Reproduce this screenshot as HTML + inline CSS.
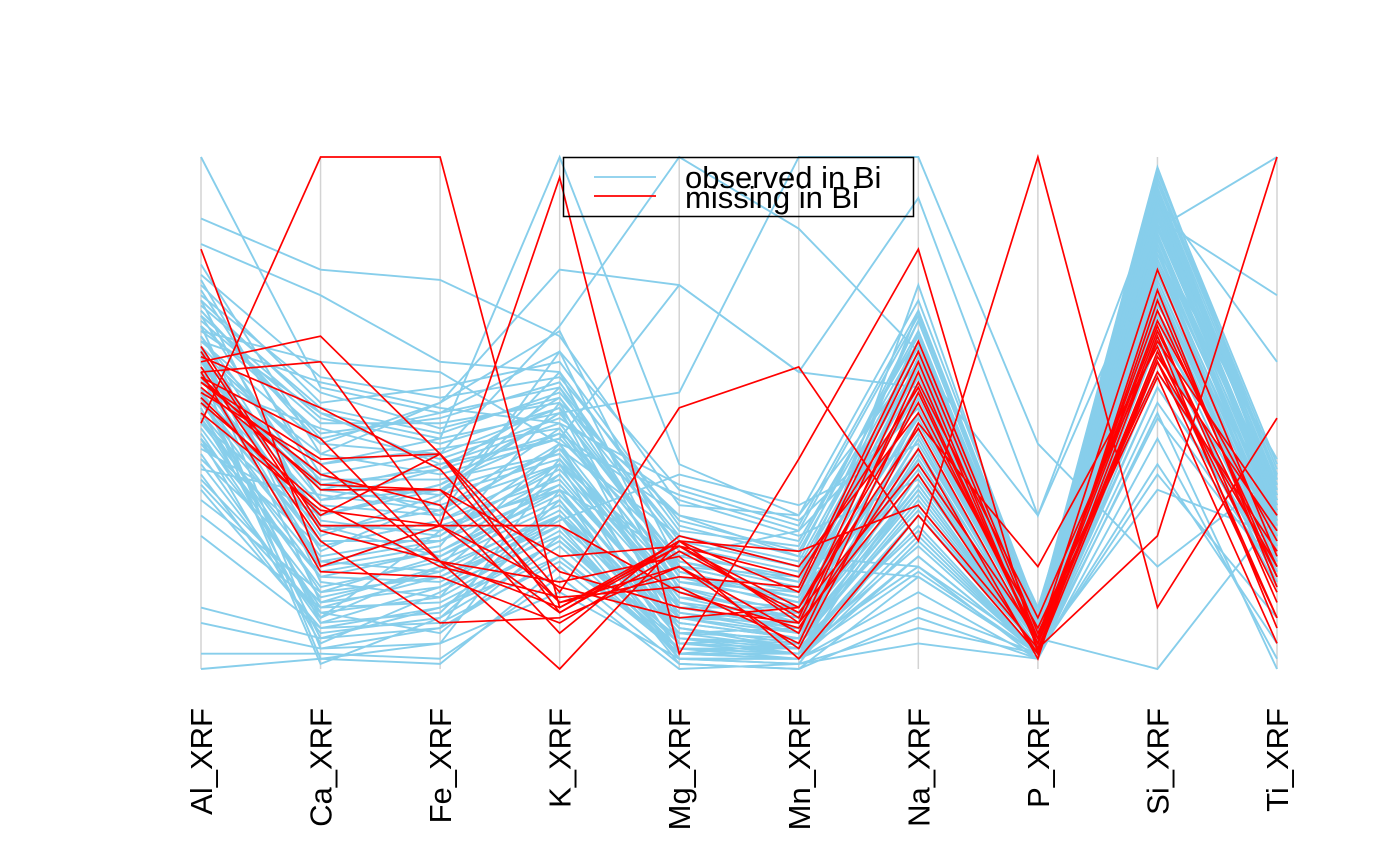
<!DOCTYPE html>
<html><head><meta charset="utf-8"><style>
html,body{margin:0;padding:0;background:#fff;}
svg{display:block;font-family:"Liberation Sans",sans-serif;}
</style></head><body>
<svg id="chart" width="1400" height="866" viewBox="0 0 1400 866">
<g id="axes"></g>
<g id="blue"></g>
<g id="red"></g>
<g id="labels"></g>
<g>
<rect x="563.5" y="157.5" width="350" height="59" fill="none" stroke="#000" stroke-width="1.5"/>
<line x1="594" y1="177" x2="656" y2="177" stroke="#87CEEB" stroke-width="1.8"/>
<line x1="594" y1="196" x2="656" y2="196" stroke="#ff0000" stroke-width="1.8"/>
<text x="685" y="188" font-size="31">observed in Bi</text>
<text x="685" y="208" font-size="31">missing in Bi</text>
</g>
</svg>
<script>
const axisNames = ["Al_XRF","Ca_XRF","Fe_XRF","K_XRF","Mg_XRF","Mn_XRF","Na_XRF","P_XRF","Si_XRF","Ti_XRF"];
const blueLines = [
[0.62,0.40,0.45,0.50,0.20,0.15,0.55,0.06,0.80,0.30],
[0.55,0.30,0.35,0.42,0.12,0.08,0.45,0.05,0.85,0.25],
[0.70,0.45,0.50,0.55,0.25,0.20,0.62,0.08,0.90,0.35],
[0.48,0.20,0.28,0.35,0.08,0.05,0.35,0.04,0.75,0.22],
[0.40,0.10,0.20,0.30,0.05,0.03,0.30,0.03,0.70,0.20],
[0.66,0.50,0.40,0.48,0.18,0.12,0.50,0.07,0.88,0.32],
[0.58,0.35,0.32,0.40,0.15,0.10,0.40,0.05,0.92,0.28],
[0.52,0.25,0.25,0.38,0.10,0.06,0.42,0.06,0.82,0.27],
[0.75,0.52,0.55,0.60,0.28,0.22,0.68,0.09,0.95,0.38],
[0.45,0.05,0.15,0.28,0.02,0.02,0.25,0.03,0.65,0.18],
[0.60,0.42,0.38,0.45,0.22,0.18,0.58,0.07,0.86,0.33],
[0.35,0.08,0.12,0.22,0.04,0.04,0.20,0.02,0.60,0.16],
[0.68,0.48,0.48,0.52,0.30,0.25,0.65,0.08,0.93,0.36],
[0.50,0.15,0.22,0.33,0.06,0.05,0.32,0.04,0.78,0.24],
[0.57,0.32,0.30,0.44,0.14,0.09,0.48,0.06,0.84,0.29],
[1.00,0.55,0.50,0.62,0.35,0.28,0.70,0.10,0.97,0.40],
[0.88,0.78,0.76,0.65,0.32,0.30,0.72,0.11,0.98,0.37],
[0.83,0.73,0.60,0.58,0.27,0.24,0.66,0.09,0.94,0.34],
[0.00,0.02,0.01,0.20,0.01,0.00,0.10,0.02,0.50,0.00],
[0.03,0.03,0.02,0.18,0.00,0.01,0.05,0.02,0.45,0.02],
[0.09,0.04,0.05,0.15,0.02,0.01,0.08,0.03,0.40,0.05],
[0.12,0.06,0.08,0.22,0.03,0.02,0.12,0.03,0.38,0.10],
[0.72,0.50,0.45,1.00,0.40,0.30,0.60,0.08,0.90,0.35],
[0.64,0.44,0.52,0.78,0.75,0.58,0.92,0.30,0.92,0.60],
[0.56,0.38,0.42,0.67,1.00,0.86,0.62,0.12,0.88,0.73],
[0.60,0.30,0.36,0.50,0.54,1.00,1.00,0.44,0.20,0.38],
[0.50,0.22,0.26,0.40,0.20,0.15,0.40,0.06,0.00,0.30],
[0.65,0.35,0.40,0.45,0.75,0.58,0.55,0.07,0.86,1.00],
[0.46,0.12,0.18,0.30,0.10,0.07,0.35,0.04,0.72,0.20],
[0.42,0.09,0.16,0.26,0.05,0.04,0.28,0.03,0.68,0.19],
[0.54,0.28,0.27,0.36,0.12,0.08,0.38,0.05,0.80,0.26],
[0.63,0.40,0.43,0.47,0.19,0.14,0.52,0.06,0.87,0.31],
[0.73,0.54,0.47,0.53,0.24,0.19,0.60,0.08,0.91,0.35],
[0.38,0.07,0.10,0.24,0.03,0.03,0.22,0.03,0.62,0.17],
[0.59,0.36,0.34,0.41,0.16,0.11,0.46,0.05,0.83,0.28],
[0.67,0.46,0.49,0.56,0.23,0.17,0.57,0.07,0.89,0.33],
[0.44,0.14,0.19,0.31,0.07,0.06,0.31,0.04,0.73,0.21],
[0.53,0.24,0.29,0.37,0.11,0.07,0.43,0.05,0.79,0.25],
[0.77,0.57,0.53,0.57,0.29,0.23,0.64,0.08,0.94,0.37],
[0.61,0.33,0.39,0.46,0.17,0.13,0.49,0.06,0.85,0.30],
[0.49,0.18,0.23,0.34,0.09,0.06,0.36,0.04,0.76,0.23],
[0.69,0.49,0.44,0.51,0.21,0.16,0.54,0.07,0.90,0.32],
[0.36,0.11,0.14,0.27,0.04,0.03,0.26,0.03,0.64,0.18],
[0.71,0.51,0.46,0.54,0.26,0.21,0.63,0.08,0.92,0.36],
[0.47,0.16,0.21,0.32,0.08,0.05,0.33,0.04,0.74,0.22],
[0.58,0.02,0.05,0.35,0.02,0.01,0.30,0.04,0.70,0.26],
[0.62,0.04,0.08,0.40,0.03,0.02,0.22,0.03,0.66,0.28],
[0.55,0.01,0.10,0.30,0.01,0.00,0.18,0.03,0.62,0.24],
[0.51,0.06,0.12,0.25,0.04,0.02,0.15,0.02,0.58,0.22],
[0.66,0.60,0.58,0.44,0.34,0.27,0.69,0.10,0.96,0.39],
[0.74,0.38,0.30,0.62,0.15,0.10,0.75,0.09,0.93,0.34],
[0.60,0.26,0.34,0.58,0.12,0.12,0.70,0.08,0.90,0.31],
[0.57,0.20,0.24,0.52,0.10,0.09,0.66,0.07,0.88,0.30],
[0.79,0.42,0.52,0.66,0.20,0.18,0.68,0.09,0.96,0.37],
[0.43,0.30,0.36,0.46,0.30,0.22,0.20,0.04,0.55,0.20],
[0.39,0.34,0.31,0.43,0.26,0.20,0.18,0.03,0.52,0.19],
[0.56,0.47,0.41,0.49,0.33,0.26,0.37,0.05,0.77,0.27],
[0.64,0.56,0.51,0.48,0.36,0.29,0.51,0.06,0.87,0.31],
[0.53,0.10,0.27,0.39,0.13,0.10,0.39,0.05,0.81,0.36],
[0.61,0.23,0.33,0.55,0.18,0.14,0.56,0.06,0.84,0.33],
[0.48,0.28,0.22,0.35,0.07,0.04,0.30,0.04,0.35,0.26],
[0.70,0.44,0.42,0.51,0.06,0.03,0.41,0.05,0.82,0.41],
[0.45,0.18,0.17,0.29,0.38,0.32,0.44,0.06,0.79,0.28],
[0.52,0.21,0.25,0.35,0.22,0.27,0.51,0.07,0.86,0.32],
[0.59,0.37,0.37,0.42,0.17,0.15,0.60,0.30,0.83,0.29],
[0.30,0.12,0.13,0.25,0.06,0.04,0.24,0.03,0.55,0.21],
[0.26,0.08,0.09,0.21,0.04,0.03,0.19,0.03,0.49,0.19],
[0.33,0.15,0.18,0.28,0.09,0.06,0.34,0.04,0.66,0.27],
[0.41,0.19,0.23,0.36,0.11,0.08,0.41,0.05,0.71,0.34],
[0.63,0.13,0.20,0.44,0.05,0.06,0.45,0.05,0.84,0.31],
[0.67,0.17,0.14,0.41,0.08,0.04,0.50,0.06,0.88,0.36],
[0.54,0.09,0.11,0.33,0.02,0.02,0.38,0.04,0.81,0.29],
[0.72,0.27,0.31,0.47,0.16,0.09,0.61,0.07,0.91,0.38],
[0.49,0.11,0.07,0.26,0.03,0.05,0.27,0.03,0.76,0.25],
[0.58,0.21,0.19,0.38,0.10,0.11,0.47,0.05,0.86,0.34],
[0.65,0.29,0.26,0.43,0.13,0.07,0.53,0.06,0.89,0.30],
[0.76,0.36,0.39,0.53,0.19,0.13,0.59,0.07,0.93,0.33],
[0.44,0.24,0.29,0.40,0.14,0.12,0.43,0.05,0.74,0.26],
[0.37,0.13,0.16,0.30,0.07,0.08,0.36,0.04,0.69,0.23],
[0.69,0.33,0.35,0.50,0.21,0.17,0.62,0.07,0.91,0.35]
];
const redLines = [
[0.82,0.20,0.28,0.11,0.25,0.15,0.62,0.06,0.68,0.25],
[0.48,1.00,1.00,0.12,0.24,0.18,0.55,0.05,0.66,0.18],
[0.60,0.65,0.42,0.11,0.24,0.10,0.60,0.04,0.62,0.15],
[0.58,0.60,0.28,0.96,0.03,0.41,0.82,0.03,0.60,0.10],
[0.57,0.45,0.21,0.12,0.25,0.09,0.56,0.10,0.64,0.30],
[0.55,0.36,0.35,0.22,0.24,0.12,0.47,0.05,0.70,0.20],
[0.53,0.30,0.42,0.15,0.51,0.59,0.25,1.00,0.12,0.49],
[0.54,0.40,0.21,0.00,0.25,0.23,0.32,0.04,0.26,1.00],
[0.63,0.28,0.28,0.28,0.15,0.08,0.43,0.02,0.74,0.16],
[0.59,0.25,0.09,0.10,0.20,0.04,0.48,0.20,0.63,0.10],
[0.50,0.31,0.28,0.16,0.10,0.12,0.52,0.06,0.78,0.22],
[0.56,0.41,0.42,0.19,0.12,0.09,0.38,0.03,0.65,0.08],
[0.61,0.51,0.39,0.13,0.18,0.16,0.64,0.07,0.57,0.05],
[0.57,0.35,0.35,0.13,0.20,0.07,0.58,0.04,0.61,0.27],
[0.58,0.19,0.18,0.09,0.23,0.11,0.40,0.06,0.67,0.13],
[0.52,0.32,0.20,0.14,0.16,0.05,0.54,0.05,0.60,0.20],
[0.62,0.27,0.21,0.17,0.22,0.02,0.30,0.03,0.72,0.18],
[0.56,0.38,0.32,0.07,0.26,0.20,0.50,0.08,0.58,0.23]
];
const NS="http://www.w3.org/2000/svg";
const x0=201, x1=1277, yTop=157, yBot=669;
function xPos(i){return x0+(x1-x0)*i/(axisNames.length-1);}
function yPos(v){return yBot-(yBot-yTop)*v;}
const gA=document.getElementById('axes'), gL=document.getElementById('labels');
axisNames.forEach((n,i)=>{
  const l=document.createElementNS(NS,'line');
  l.setAttribute('x1',xPos(i));l.setAttribute('x2',xPos(i));
  l.setAttribute('y1',yTop);l.setAttribute('y2',yBot);
  l.setAttribute('stroke','#d3d3d3');l.setAttribute('stroke-width','1.5');
  
  
  gA.appendChild(l);
  const t=document.createElementNS(NS,'text');
  const tx=xPos(i)+11, ty=708;
  t.setAttribute('x',tx);t.setAttribute('y',ty);
  t.setAttribute('font-size','31');t.setAttribute('text-anchor','end');
  t.setAttribute('transform','rotate(-90 '+tx+' '+ty+')');
  t.textContent=n;
  
  
  gL.appendChild(t);
});
function draw(g,rows,color,name,w){
  rows.forEach((r,k)=>{
    const p=document.createElementNS(NS,'polyline');
    p.setAttribute('points',r.map((v,i)=>xPos(i)+','+yPos(v)).join(' '));
    p.setAttribute('fill','none');p.setAttribute('stroke',color);
    p.setAttribute('stroke-width',w);
    
    
    g.appendChild(p);
  });
}
draw(document.getElementById('blue'),blueLines,'#87CEEB','observed-line','1.9');
draw(document.getElementById('red'),redLines,'#ff0000','missing-line','1.7');
</script>
</body></html>
